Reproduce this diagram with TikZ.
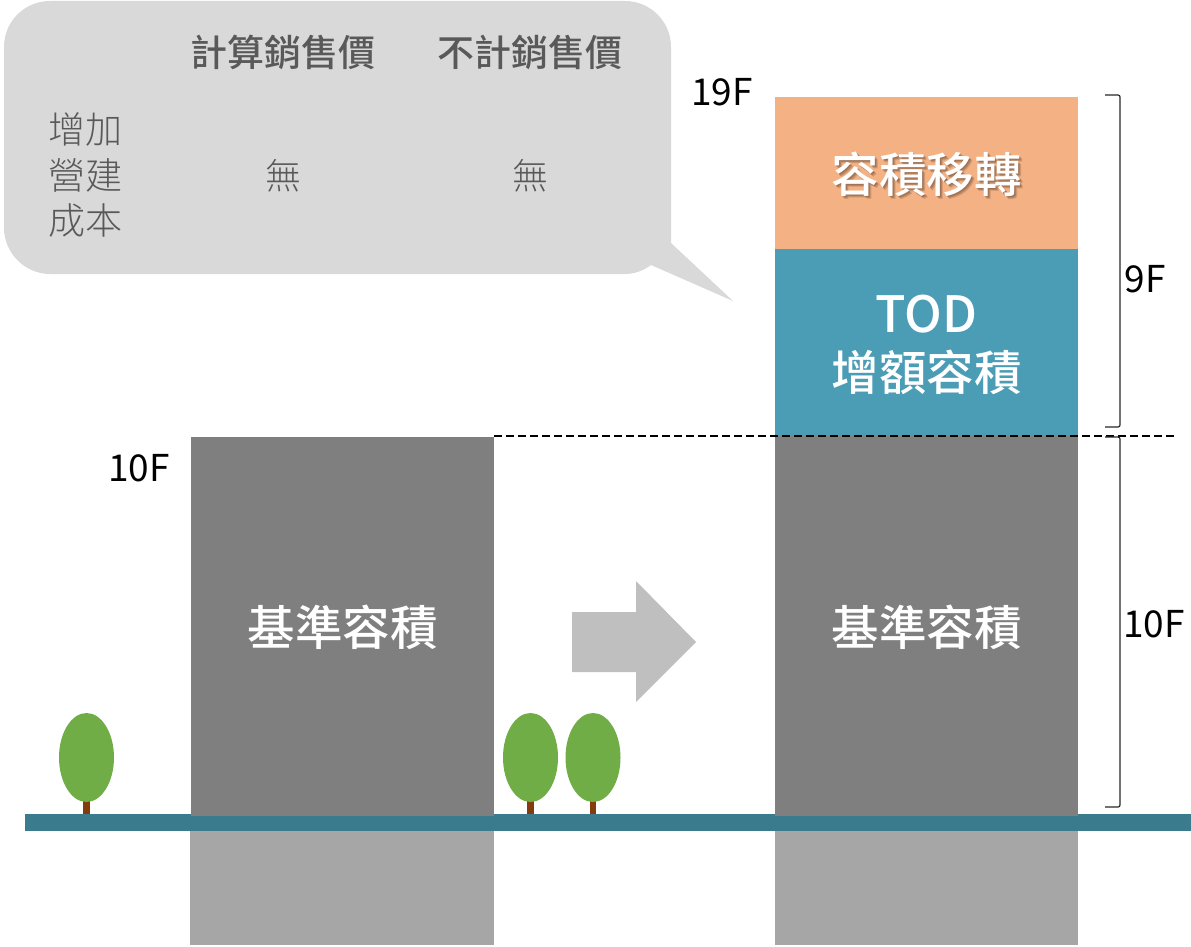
\documentclass[tikz,border=0pt]{standalone}
\usepackage{fontspec}
\setmainfont{Noto Sans CJK TC}[BoldFont={Noto Sans CJK TC Medium}]
\newfontfamily\lightcjk{Noto Sans CJK TC Light}
\usetikzlibrary{shapes.geometric}
\definecolor{bubble}{HTML}{D9D9D9}
\definecolor{bubbletext}{HTML}{595959}
\definecolor{tower}{HTML}{7F7F7F}
\definecolor{basement}{HTML}{A6A6A6}
\definecolor{ground}{HTML}{3B7B8E}
\definecolor{orangebox}{HTML}{F4B183}
\definecolor{tealbox}{HTML}{4B9CB5}
\definecolor{leaf}{HTML}{70AD47}
\definecolor{trunk}{HTML}{843C0C}
\definecolor{arrowgray}{HTML}{BFBFBF}
\tikzset{
  x=1pt,y=-1pt,
  head/.style={font=\fontsize{37}{37}\selectfont\bfseries,text=bubbletext,inner sep=0pt},
  cell/.style={font=\fontsize{36}{36}\selectfont\lightcjk,text=bubbletext,inner sep=0pt},
  big/.style={font=\fontsize{47.5}{47.5}\selectfont\bfseries,text=white,inner sep=0pt},
  floorlabel/.style={font=\fontsize{37}{37}\selectfont,text=black,inner sep=0pt},
  leafy/.style={ellipse,fill=leaf,draw=none,inner sep=0pt,minimum width=55pt,minimum height=89pt},
  bracket/.style={draw=black!85,line width=1.2pt,rounded corners=2pt},
}
\newcommand{\shadowed}[3]{%
  \foreach \d/\o in {1/.12,2/.16,3/.12}{
    \node[big,text=black,opacity=\o] at (#1+\d,#2+\d) {#3};}
  \node[big] at (#1,#2) {#3};}
\begin{document}
\begin{tikzpicture}
\useasboundingbox (0,0) rectangle (1191,947);
% speech bubble
\fill[bubble] (50,1) -- (625,1) arc[start angle=90,end angle=0,x radius=46,y radius=-46]
  -- (671,243) -- (733,301) -- (651,265)
  .. controls (643,271) and (634,274) .. (625,274) -- (50,274)
  .. controls (25,274) and (4,253) .. (4,228) -- (4,47)
  .. controls (4,21) and (25,1) .. (50,1) -- cycle;
\node[head] (h1) at (283,52) {計算銷售價};
\node[head] (h2) at (530,52) {不計銷售價};
\node[cell,align=center,font=\fontsize{37}{45.5}\selectfont\lightcjk] (rowlabel) at (85.5,175) {增加\\營建\\成本};
\node[cell] (c1) at (283,176) {無};
\node[cell] (c2) at (530,176) {無};
% ground and basements
\fill[basement] (190,831) rectangle (494,945);
\fill[basement] (775,831) rectangle (1078,945);
\fill[ground] (25,814) rectangle (1191,831);
% towers
\fill[tower] (191,437) rectangle (494,816);
\fill[tower] (775,436) rectangle (1078,816);
\fill[tealbox] (775,249) rectangle (1078,436);
\fill[orangebox] (775,97) rectangle (1078,249);
\node[big] (base1) at (342.5,627) {基準容積};
\node[big] (base2) at (926.5,627) {基準容積};
\shadowed{926.5}{174}{容積移轉}
\node[big,font=\fontsize{50}{50}\selectfont\bfseries] (tod) at (926,314) {TOD};
\node[big] (extra) at (926.5,372) {增額容積};
% trees
\foreach \n/\x in {a/86.5,b/530.5,c/593}{
  \fill[trunk] (\x-3.2,800) rectangle (\x+3.2,814);
  \node[leafy] (tree\n) at (\x,757.5) {};
}
% arrow
\fill[arrowgray] (572,612) -- (636,612) -- (636,581) -- (696,642) -- (636,702) -- (636,672) -- (572,672) -- cycle;
% dashed line
\coordinate (dashL) at (494,436);
\coordinate (dashR) at (1174,436);
\draw[black,line width=1.1pt,dash pattern=on 8pt off 4pt] (dashL) -- (dashR);
% brackets
\draw[bracket] (1105,95) -- (1120,95) -- (1120,427) -- (1105,427);
\draw[bracket] (1105,437) -- (1120,437) -- (1120,807) -- (1105,807);
% floor labels
\node[floorlabel] (f19) at (722,92) {19F};
\node[floorlabel] (f10) at (139,468) {10F};
\node[floorlabel] (f9) at (1145,279) {9F};
\node[floorlabel] (f10r) at (1154,624) {10F};
\end{tikzpicture}
\end{document}
